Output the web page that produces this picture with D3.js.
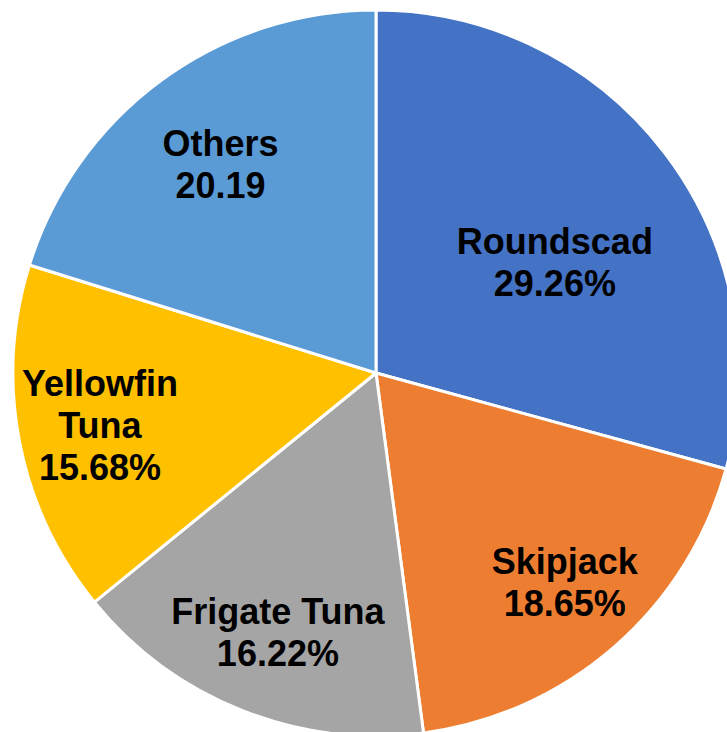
<!DOCTYPE html>
<html>
<head>
<meta charset="utf-8">
<script src="https://cdn.jsdelivr.net/npm/d3@7"></script>
<style>
  html, body { margin: 0; padding: 0; background: #ffffff; }
  svg { display: block; }
</style>
</head>
<body>
<svg id="chart" width="727" height="732"></svg>
<script>
// ---- data ----
const categories = ["Roundscad", "Skipjack", "Frigate Tuna", "Yellowfin Tuna", "Others"];
const values = [29.26, 18.65, 16.22, 15.68, 20.19];
const labelLines = [
  ["Roundscad", "29.26%"],
  ["Skipjack", "18.65%"],
  ["Frigate Tuna", "16.22%"],
  ["Yellowfin", "Tuna", "15.68%"],
  ["Others", "20.19"]
];
const colors = ["#4472C4", "#ED7D31", "#A5A5A5", "#FFC000", "#5B9BD5"];

// ---- layout ----
const cx = 376, cy = 373, radius = 363;
const labelRadiusFrac = [0.58, 0.776, 0.762, 0.774, 0.718];
const labelAngleShift = [5.5, -1, -0.9, 0.2, -0.3]; // degrees
const fontSize = 36, lineGap = 42;

const svg = d3.select("#chart");
const g = svg.append("g").attr("transform", `translate(${cx},${cy})`);

const pie = d3.pie().sort(null).value(d => d.value);
const data = categories.map((c, i) => ({ name: c, value: values[i], idx: i }));
const arcs = pie(data);
const arc = d3.arc().innerRadius(0).outerRadius(radius);

g.selectAll("path.slice")
  .data(arcs)
  .enter().append("path")
  .attr("class", "slice")
  .attr("d", arc)
  .attr("fill", d => colors[d.data.idx])
  .attr("stroke", "#ffffff")
  .attr("stroke-width", 3)
  .attr("stroke-linejoin", "round");

const capH = 0.716 * fontSize;
arcs.forEach(d => {
  const i = d.data.idx;
  const a = (d.startAngle + d.endAngle) / 2 + labelAngleShift[i] * Math.PI / 180;
  const r = labelRadiusFrac[i] * radius;
  const x = Math.sin(a) * r, y = -Math.cos(a) * r;
  const lines = labelLines[i];
  const n = lines.length;
  const t = g.append("text")
    .attr("text-anchor", "middle")
    .attr("font-family", "'Liberation Sans', Arial, sans-serif")
    .attr("font-weight", "bold")
    .attr("font-size", fontSize)
    .attr("fill", "#000000");
  lines.forEach((ln, k) => {
    t.append("tspan")
      .attr("x", x)
      .attr("y", y - (n - 1) * lineGap / 2 + k * lineGap + capH / 2)
      .text(ln);
  });
});
</script>
</body>
</html>
